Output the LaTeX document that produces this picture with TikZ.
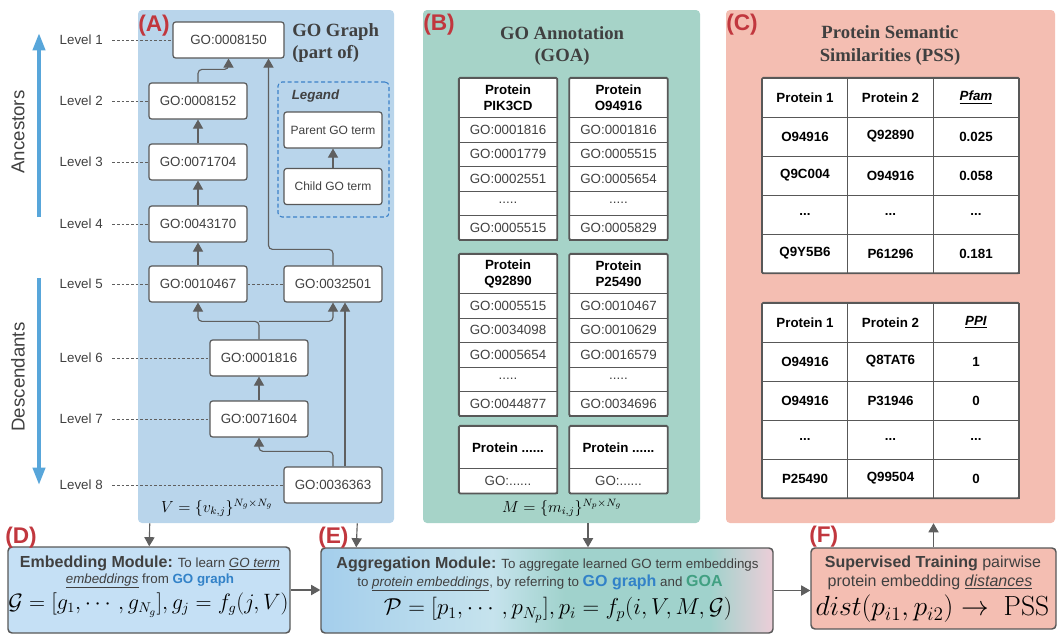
\documentclass[tikz,border=0pt]{standalone}
\usepackage[no-math]{fontspec}
\setmainfont{Liberation Sans}
\newfontfamily\titlefont{Liberation Serif}
\usepackage{amsmath}
\usepackage{tikz}
\usetikzlibrary{calc}
\usetikzlibrary{arrows}
\usetikzlibrary{arrows.meta}

\definecolor{panA}{RGB}{185,213,235}
\definecolor{panB}{RGB}{166,211,200}
\definecolor{panC}{RGB}{244,190,178}
\definecolor{modD}{RGB}{197,224,245}
\definecolor{aggA}{RGB}{164,206,236}
\definecolor{aggB}{RGB}{198,227,237}
\definecolor{aggC}{RGB}{160,210,204}
\definecolor{aggD}{RGB}{236,206,216}
\definecolor{tagred}{RGB}{193,55,62}
\definecolor{arrowblue}{RGB}{88,166,218}
\definecolor{edgegray}{RGB}{95,95,95}
\definecolor{boxgray}{RGB}{88,88,88}
\definecolor{txtgray}{RGB}{64,64,64}
\definecolor{gographblue}{RGB}{50,130,200}
\definecolor{goagreen}{RGB}{65,160,130}
\definecolor{legblue}{RGB}{60,130,200}

\newcommand{\godots}{.....}
\newcommand{\pssdots}{...}
\newcommand{\uitem}[1]{\underline{\textit{#1}}}
\newcommand{\modhead}{\bfseries\fontsize{12}{14}\selectfont}

% tikz fits the path into the middle 50bp of the shading
\pgfdeclarehorizontalshading{aggshade}{100bp}{color(0bp)=(aggA); color(25bp)=(aggA); color(44bp)=(aggB); color(52bp)=(aggC); color(68bp)=(aggC); color(75bp)=(aggD); color(100bp)=(aggD)}

\tikzset{%
  myedge/.style={->, >=triangle 60, draw=edgegray, line width=0.85pt},
  bigarrow/.style={-{Triangle[length=13pt, width=9pt]}, draw=arrowblue, line width=3pt},
  gonode/.style={draw=boxgray, fill=white, rounded corners=2pt, line width=0.9pt, minimum width=73.5pt, minimum height=27pt, inner sep=0pt, text=txtgray, font=\fontsize{10}{12}\selectfont},
  levellbl/.style={anchor=east, inner sep=0pt, text=txtgray, font=\fontsize{10}{12}\selectfont},
  leveldash/.style={draw=edgegray, dash pattern=on 2pt off 1.5pt, line width=0.6pt},
  sidelbl/.style={rotate=90, text=txtgray, font=\fontsize{14}{16}\selectfont},
  panel/.style={rounded corners=3pt, inner sep=0pt},
  tag/.style={anchor=west, inner sep=0pt, text=tagred, font=\bfseries\fontsize{17}{17}\selectfont},
  ptitle/.style={text=txtgray, font=\titlefont\bfseries\fontsize{14}{17}\selectfont, inner sep=0pt},
  goahead/.style={draw=boxgray, fill=white, minimum width=73.5pt, minimum height=29.25pt, inner sep=0pt, align=center, font=\bfseries\fontsize{10}{12}\selectfont},
  goacell/.style={draw=boxgray, fill=white, minimum width=73.5pt, minimum height=18.375pt, inner sep=0pt, text=txtgray, font=\fontsize{10}{12}\selectfont},
  goaframe/.style={draw=boxgray, line width=1.3pt, rounded corners=1pt},
  psscell/.style={draw=boxgray, fill=white, minimum width=64.25pt, minimum height=29.25pt, inner sep=0pt, font=\bfseries\fontsize{10}{12}\selectfont},
  module/.style={draw=boxgray, rounded corners=3pt, line width=1.1pt, inner sep=0pt},
  modtext/.style={inner sep=0pt, text=txtgray, font=\fontsize{10}{12}\selectfont},
  fml/.style={inner sep=0pt, font=\fontsize{12}{14}\selectfont}
}

\begin{document}
\begin{tikzpicture}[x=0.75pt, y=-0.75pt]
\useasboundingbox (0,0) rectangle (1064,640);

% panels
\node[panel, fill=panA, minimum width=192pt, minimum height=384.75pt] (PanA) at (266,266.5) {};
\node[panel, fill=panB, minimum width=207.75pt, minimum height=384.75pt] (PanB) at (561.5,266.5) {};
\node[panel, fill=panC, minimum width=246.75pt, minimum height=384.75pt] (PanC) at (890.5,266.5) {};

\node[tag] (TagA) at (138,26) {(A)};
\node[tag] (TagB) at (423,25) {(B)};
\node[tag] (TagC) at (726,25) {(C)};

\node[ptitle, anchor=north west, align=left] (TitA) at (292,23) {GO Graph\\(part of)};
\node[ptitle, align=center] (TitB) at (562,46) {GO Annotation\\(GOA)};
\node[ptitle, align=center] (TitC) at (890,45.5) {Protein Semantic\\Similarities (PSS)};

% go graph
\node[gonode, minimum width=83.25pt] (G1) at (228.5,40) {GO:0008150};
\foreach \n/\x/\y/\t in {2/198/101/0008152, 3/198/162/0071704, 4/198/224/0043170, 5/198/284/0010467,
                         9/333/284/0032501, 6/259/358/0001816, 7/259/419/0071604, 8/333/485/0036363}{
  \node[gonode] (G\n) at (\x,\y) {GO:\t};
}

\draw[myedge, rounded corners=3pt] (G2.north) -- ++(0,-13) -| (G1.south);
\draw[myedge, rounded corners=3pt] (G9.north) -- ++(0,-16) -| ($(G1.south)+(40,0)$);
\foreach \a/\b in {G3/G2, G4/G3, G5/G4, G7/G6}{
  \draw[myedge] (\a) -- (\b);
}
\draw[myedge, rounded corners=3pt] (G6.north) -- ++(0,-18) coordinate (s6) -| (G5.south);
\draw[myedge, rounded corners=3pt] (s6) -| (G9.south);
\draw[myedge, rounded corners=3pt] (G8.north) -- ++(0,-15) -| (G7.south);
\draw[myedge] ($(G8.north)+(12,0)$) -- ($(G9.south)+(12,0)$);

% legend
\node[panel, draw=legblue, dash pattern=on 3pt off 2pt, line width=0.8pt, minimum width=83.25pt, minimum height=101.25pt] (Leg) at (333.5,149.5) {};
\node[inner sep=0pt, text=txtgray, font=\bfseries\itshape\fontsize{10}{12}\selectfont] (LegT) at (315.5,96) {Legand};
\node[gonode, font=\fontsize{9}{11}\selectfont] (Par) at (333,130) {Parent GO term};
\node[gonode, font=\fontsize{9}{11}\selectfont] (Chi) at (333,186.5) {Child GO term};
\draw[myedge] (Chi) -- (Par);

% levels
\foreach \i/\y/\g in {1/40/G1, 2/101/G2, 3/162/G3, 4/224/G4, 5/284/G5, 6/358/G6, 7/419/G7, 8/485/G8}{
  \node[levellbl] (L\i) at (103,\y) {Level \i};
  \draw[leveldash, shorten <=7pt] (L\i.east) -- (\g.west);
}
\draw[leveldash] (G5.east) -- (G9.west);

\coordinate (AncB) at (39,217);
\coordinate (AncT) at (39,33);
\draw[bigarrow] (AncB) -- (AncT);
\node[sidelbl] (Anc) at (18,132) {Ancestors};
\coordinate (DesT) at (39,278);
\coordinate (DesB) at (39,485);
\draw[bigarrow] (DesT) -- (DesB);
\node[sidelbl] (Des) at (18,377) {Descendants};

\node[fml] (Vf) at (217,508) {$V = \{v_{k,j}\}^{N_g\times N_g}$};

% annotation tables
\foreach \n/\x/\y/\t in {1/508/97.5/PIK3CD, 2/618.5/97.5/O94916, 3/508/273.5/Q92890, 4/618.5/273.5/P25490}{
  \node[goahead] (H\n) at (\x,\y) {Protein\\\t};
}
\foreach \n/\a/\b/\c/\d/\e in {1/GO:0001816/GO:0001779/GO:0002551/\godots/GO:0005515,
                               2/GO:0001816/GO:0005515/GO:0005654/\godots/GO:0005829,
                               3/GO:0005515/GO:0034098/GO:0005654/\godots/GO:0044877,
                               4/GO:0010467/GO:0010629/GO:0016579/\godots/GO:0034696}{
  \foreach \t [count=\r] in {\a,\b,\c,\d,\e}{
    \node[goacell] (R\n\r) at ($(H\n.south)+(0,{(\r-1)*24.5+12.25})$) {\t};
  }
  \draw[goaframe] (H\n.north west) rectangle (R\n5.south east);
}
\foreach \n/\x in {5/508, 6/618.5}{
  \node[goahead, minimum height=32.25pt] (H\n) at (\x,447.5) {Protein ......};
  \node[goacell] (R\n1) at (\x,481) {GO:......};
  \draw[goaframe] (H\n.north west) rectangle (R\n1.south east);
}

\node[fml] (Mf) at (562,508) {$M = \{m_{i,j}\}^{N_p\times N_g}$};

% similarity tables
\foreach \y/\a/\b/\c [count=\r] in {97.5/Protein 1/Protein 2/\uitem{Pfam}, 136.5/O94916/Q92890/0.025,
                                    175.5/Q9C004/O94916/0.058, 214.5/\pssdots/\pssdots/\pssdots,
                                    253.5/Q9Y5B6/P61296/0.181,
                                    322.5/Protein 1/Protein 2/\uitem{PPI}, 361.5/O94916/Q8TAT6/1,
                                    400.5/O94916/P31946/0, 439.5/\pssdots/\pssdots/\pssdots,
                                    478.5/P25490/Q99504/0}{
  \node[psscell] (C\r1) at (805,\y) {\a};
  \node[psscell] (C\r2) at (890.5,\y) {\b};
  \node[psscell] (C\r3) at (976,\y) {\c};
}
\draw[goaframe] (C11.north west) rectangle (C53.south east);
\draw[goaframe] (C61.north west) rectangle (C103.south east);

% modules
\node[module, fill=modD, minimum width=211.5pt, minimum height=64.5pt] (ModD) at (149,590) {};
\node[module, shading=aggshade, minimum width=339pt, minimum height=63.75pt] (ModE) at (547,590.5) {};
\node[module, fill=panC, minimum width=183.75pt, minimum height=60.75pt] (ModF) at (933.5,588.5) {};

\node[tag] (TagD) at (5,538) {(D)};
\node[tag] (TagE) at (318,538) {(E)};
\node[tag] (TagF) at (809,537) {(F)};

\node[modtext] (DT1) at (150,563) {{\modhead Embedding Module:} To learn \uitem{GO term}};
\node[modtext] (DT2) at (150,581) {\uitem{embeddings} from {\color{gographblue}\bfseries GO graph}};
\node[fml, font=\fontsize{16}{18}\selectfont, scale=0.965, transform shape] (DM) at (148.5,605) {$\mathcal{G} = [g_1, \cdots, g_{N_g}], g_j = f_g(j, V)$};

\node[modtext] (ET1) at (547.5,564) {{\modhead Aggregation Module:} To aggregate learned GO term embeddings};
\node[modtext] (ET2) at (540,583) {to \uitem{protein embeddings}, by referring to {\color{gographblue}\modhead GO graph} and {\color{goagreen}\modhead GOA}};
\node[fml, font=\fontsize{18.5}{20}\selectfont] (EM) at (558,610) {$\mathcal{P} = [p_1, \cdots, p_{N_p}], p_i = f_p(i, V, M, \mathcal{G})$};

\node[modtext, font=\fontsize{12}{14}\selectfont] (FT1) at (933,563) {{\bfseries Supervised Training} pairwise};
\node[modtext, font=\fontsize{12}{14}\selectfont] (FT2) at (930,582) {protein embedding \uitem{distances}};
\node[fml, font=\fontsize{19.5}{22}\selectfont] (FM) at (932.5,609) {$dist(p_{i1}, p_{i2}) \rightarrow\ \mathrm{PSS}$};

% flow between panels and modules
\draw[myedge] ($(PanA.south west)+(12,0)$) -- ($(ModD.north west)+(142,0)$);
\draw[myedge] ($(PanA.south east)+(-37,0)$) -- ($(ModE.north west)+(36,0)$);
\draw[myedge] ($(PanB.south)+(26.5,0)$) -- ($(ModE.north)+(41,0)$);
\draw[myedge] (ModD.east) -- (ModD.east -| ModE.west);
\draw[myedge] (ModE.east) -- (ModE.east -| ModF.west);
\draw[myedge] (ModF.north) -- (ModF.north |- PanC.south);

\end{tikzpicture}
\end{document}
